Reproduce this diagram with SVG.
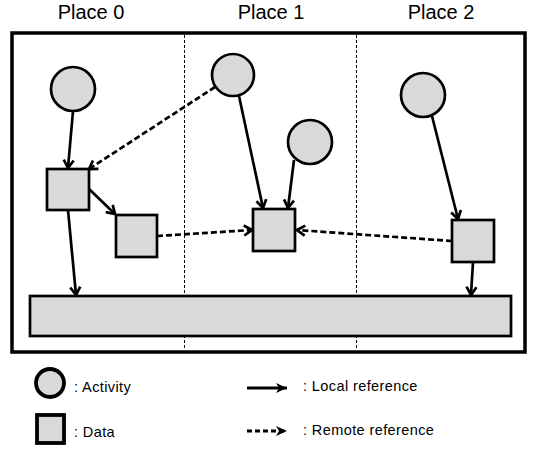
<svg xmlns="http://www.w3.org/2000/svg" width="537" height="452" viewBox="0 0 537 452">
<defs>
<style>
.title{font-family:"Liberation Sans",sans-serif;font-size:20px;fill:#000;text-anchor:middle}
.leg{font-family:"Liberation Sans",sans-serif;font-size:14.5px;fill:#000;letter-spacing:0.4px}
.act{fill:#d9d9d9;stroke:#000;stroke-width:2.7}
.dat{fill:#d9d9d9;stroke:#000;stroke-width:2.7}
.loc{fill:none;stroke:#000;stroke-width:2.7;marker-end:url(#ah)}
.rem{fill:none;stroke:#000;stroke-width:2.7;stroke-dasharray:6 3;marker-end:url(#ah)}
.div{stroke:#000;stroke-width:1;stroke-dasharray:3 2}
</style>
<marker id="ah" markerUnits="userSpaceOnUse" viewBox="-10 -7 12 14" refX="0" refY="0" markerWidth="12" markerHeight="14" orient="auto">
<path d="M -8 -5 L 0 0 L -8 5" fill="none" stroke="#000" stroke-width="2.7"/>
</marker>
<marker id="ahf" markerUnits="userSpaceOnUse" viewBox="-12 -6 13 12" refX="0" refY="0" markerWidth="13" markerHeight="12" orient="auto">
<path d="M -11 -5 L 0 0 L -11 5 L -8 0 Z" fill="#000"/>
</marker>
</defs>
<rect width="537" height="452" fill="#fff"/>
<g id="titles">
<text class="title" x="91" y="19">Place 0</text>
<text class="title" x="271" y="19">Place 1</text>
<text class="title" x="441" y="19">Place 2</text>
</g>
<g id="frame">
<rect x="12" y="33" width="513" height="319" fill="none" stroke="#000" stroke-width="3.5"/>
<line class="div" x1="184.5" y1="35" x2="184.5" y2="350"/>
<line class="div" x1="356.5" y1="35" x2="356.5" y2="350"/>
</g>
<g id="bar"><rect class="dat" x="30" y="296" width="481" height="40"/></g>
<g id="a1"><circle class="act" cx="73" cy="89" r="22"/></g>
<g id="a2"><circle class="act" cx="233" cy="75" r="21"/></g>
<g id="a3"><circle class="act" cx="310" cy="142" r="22"/></g>
<g id="a4"><circle class="act" cx="423" cy="95" r="22"/></g>
<g id="d1"><rect class="dat" x="47" y="169" width="42" height="41"/></g>
<g id="d2"><rect class="dat" x="116" y="215" width="41" height="42"/></g>
<g id="d3"><rect class="dat" x="253" y="209" width="42" height="42"/></g>
<g id="d4"><rect class="dat" x="452" y="220" width="42" height="42"/></g>
<g id="connectors">
<line class="loc" x1="73" y1="111" x2="68" y2="168"/>
<line class="rem" x1="215" y1="87" x2="89" y2="169"/>
<line class="loc" x1="239" y1="96" x2="263" y2="208"/>
<line class="loc" x1="294" y1="160" x2="288" y2="208"/>
<line class="loc" x1="89" y1="189" x2="115" y2="214"/>
<line class="loc" x1="68" y1="210" x2="76" y2="295"/>
<line class="rem" x1="157" y1="236" x2="252" y2="230"/>
<line class="rem" x1="452" y1="241" x2="297" y2="230"/>
<line class="loc" x1="432" y1="116" x2="458" y2="219"/>
<line class="loc" x1="473" y1="262" x2="471" y2="295"/>
</g>
<g id="legend">
<circle cx="50" cy="383" r="14" fill="#d9d9d9" stroke="#000" stroke-width="3.8"/>
<text class="leg" x="74" y="392">: Activity</text>
<rect x="37" y="415" width="27" height="28" fill="#d9d9d9" stroke="#000" stroke-width="3.8"/>
<text class="leg" x="74" y="437">: Data</text>
<line x1="247" y1="388" x2="287" y2="388" stroke="#000" stroke-width="2.8" marker-end="url(#ahf)"/>
<text class="leg" x="303" y="391">: Local reference</text>
<line x1="247" y1="431" x2="287" y2="431" stroke="#000" stroke-width="2.8" stroke-dasharray="5 3" marker-end="url(#ahf)"/>
<text class="leg" x="303" y="435">: Remote reference</text>
</g>
</svg>
